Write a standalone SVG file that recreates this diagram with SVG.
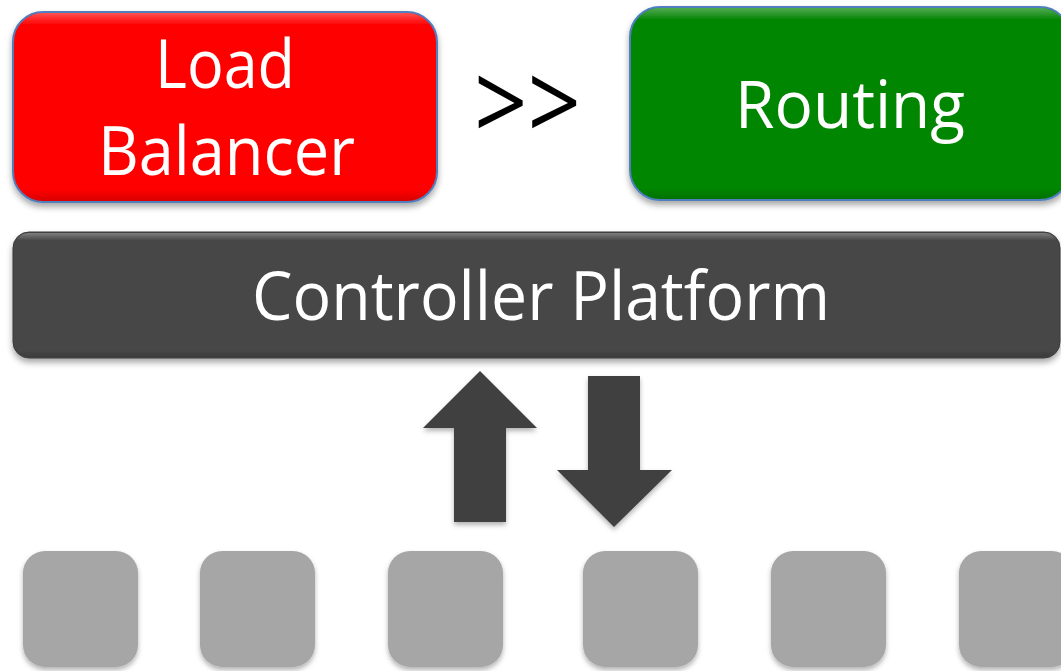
<svg xmlns="http://www.w3.org/2000/svg" width="1061" height="671" viewBox="0 0 1061 671">
  <style>
    .label { font-family: "Open Sans", "Liberation Sans", sans-serif; fill: #ffffff; }
    .op { font-family: "Open Sans", "Liberation Sans", sans-serif; fill: #000000; }
    .box { stroke: #4f7fbf; stroke-width: 2; }
    .switch { fill: #a6a6a6; }
    .arrow { fill: #404040; }
  </style>
  <defs>
    <filter id="shadow" x="-10%" y="-10%" width="120%" height="130%">
      <feDropShadow dx="0" dy="4" stdDeviation="3" flood-color="#000" flood-opacity="0.35"/>
    </filter>
    <filter id="softShadow" x="-20%" y="-20%" width="140%" height="140%">
      <feDropShadow dx="0" dy="3" stdDeviation="2.5" flood-color="#000" flood-opacity="0.3"/>
    </filter>
    <linearGradient id="gloss" x1="0" y1="0" x2="0" y2="1">
      <stop offset="0" stop-color="#ffffff" stop-opacity="0.3"/>
      <stop offset="0.06" stop-color="#ffffff" stop-opacity="0"/>
      <stop offset="0.94" stop-color="#000000" stop-opacity="0"/>
      <stop offset="1" stop-color="#000000" stop-opacity="0.15"/>
    </linearGradient>
  </defs>

  <!-- Load balancer application -->
  <g id="load-balancer" filter="url(#shadow)">
    <rect class="box" x="13" y="12" width="424" height="190" rx="30" fill="#fe0606"/>
    <rect x="14" y="13" width="422" height="188" rx="29" fill="url(#gloss)"/>
    <text class="label" x="155" y="88" font-size="68" textLength="140" lengthAdjust="spacingAndGlyphs">Load</text>
    <text class="label" x="98" y="175" font-size="68" textLength="257" lengthAdjust="spacingAndGlyphs">Balancer</text>
  </g>

  <!-- Composition operator -->
  <g id="sequential-op">
    <text class="op" x="474" y="141" font-size="108" textLength="107" lengthAdjust="spacingAndGlyphs">&gt;&gt;</text>
  </g>

  <!-- Routing application -->
  <g id="routing" filter="url(#shadow)">
    <rect class="box" x="630" y="7" width="440" height="193" rx="30" fill="#068606"/>
    <rect x="631" y="8" width="438" height="191" rx="29" fill="url(#gloss)"/>
    <text class="label" x="735" y="128" font-size="66" textLength="230" lengthAdjust="spacingAndGlyphs">Routing</text>
  </g>

  <!-- Controller platform bar -->
  <g id="controller" filter="url(#shadow)">
    <rect x="13" y="232" width="1047" height="126" rx="16" fill="#474747" stroke="#3a3a3a" stroke-width="1"/>
    <rect x="14" y="233" width="1045" height="124" rx="15" fill="url(#gloss)"/>
    <text class="label" x="252" y="320" font-size="68" textLength="578" lengthAdjust="spacingAndGlyphs">Controller Platform</text>
  </g>

  <!-- Control channel arrows -->
  <g id="connectors" filter="url(#softShadow)">
    <polygon class="arrow" points="480,371 537,428 506,428 506,522 454,522 454,428 423,428"/>
    <polygon class="arrow" points="588,376 640,376 640,470 672,470 614,527 557,470 588,470"/>
  </g>

  <!-- Switches -->
  <g id="switch-1" filter="url(#softShadow)"><rect class="switch" x="23" y="551" width="115" height="116" rx="22"/></g>
  <g id="switch-2" filter="url(#softShadow)"><rect class="switch" x="200" y="551" width="115" height="116" rx="22"/></g>
  <g id="switch-3" filter="url(#softShadow)"><rect class="switch" x="388" y="551" width="115" height="116" rx="22"/></g>
  <g id="switch-4" filter="url(#softShadow)"><rect class="switch" x="583" y="551" width="115" height="116" rx="22"/></g>
  <g id="switch-5" filter="url(#softShadow)"><rect class="switch" x="771" y="551" width="115" height="116" rx="22"/></g>
  <g id="switch-6" filter="url(#softShadow)"><rect class="switch" x="959" y="551" width="115" height="116" rx="22"/></g>
</svg>
